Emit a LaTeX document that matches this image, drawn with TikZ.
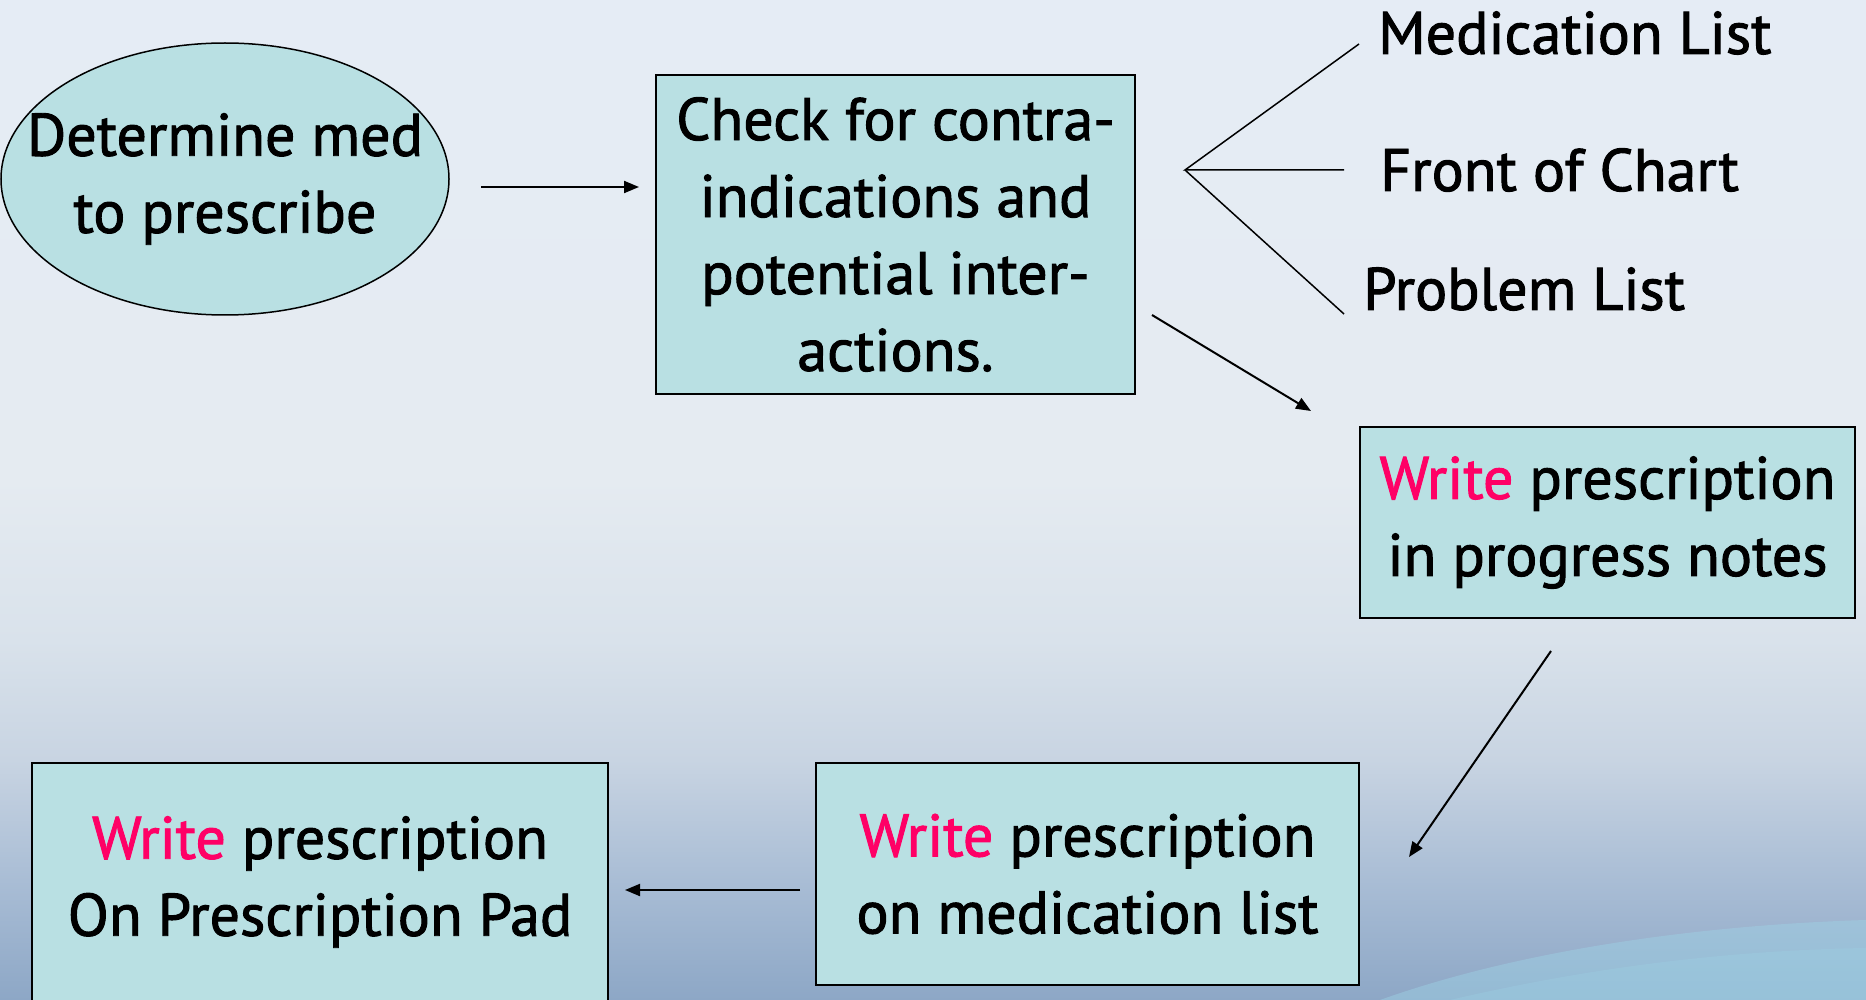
\documentclass[tikz,border=0pt]{standalone}
\usepackage{fontspec}
\setmainfont{PT Sans}[FakeBold=1.6]
\usetikzlibrary{arrows.meta,shapes.geometric}
\definecolor{boxfill}{HTML}{B9E0E3}
\definecolor{wred}{HTML}{FF0066}
\definecolor{bg0}{HTML}{8DA7C6}
\definecolor{bg1}{HTML}{A9BDD5}
\definecolor{bg2}{HTML}{C8D4E2}
\definecolor{bg3}{HTML}{D9E2EB}
\definecolor{bg4}{HTML}{E5EBF1}
\definecolor{bg5}{HTML}{E5ECF5}
\definecolor{streak}{HTML}{9ED3E6}
\pgfdeclareverticalshading{bgsh}{100bp}{color(0bp)=(bg0); color(25bp)=(bg0); color(31bp)=(bg1); color(37bp)=(bg2); color(43bp)=(bg3); color(51bp)=(bg4); color(75bp)=(bg5); color(100bp)=(bg5)}
\begin{document}
\begin{tikzpicture}[x=1pt,y=-1pt,
  box/.style={draw=black,line width=1.8pt,fill=boxfill,align=center,
    font=\fontsize{60}{77}\selectfont,inner sep=0pt},
  txt/.style={align=center,font=\fontsize{60}{77}\selectfont,inner sep=0pt},
  lbl/.style={font=\fontsize{60}{66}\selectfont,anchor=west,inner sep=0pt},
  link/.style={line width=1.5pt},
  arr/.style={line width=2pt,-{Triangle[length=15pt,width=12pt]}}]
\useasboundingbox (0,0) rectangle (1866,1000);
\begin{scope}
\clip (0,0) rectangle (1866,1000);
\shade[shading=bgsh] (0,0) rectangle (1866,1000);
\fill[streak,opacity=0.45] (1380,1000) .. controls (1520,950) and (1700,925) .. (1866,920) -- (1866,1000) -- cycle;
\fill[streak,opacity=0.3] (1450,1000) .. controls (1600,965) and (1740,950) .. (1866,948) -- (1866,1000) -- cycle;
\node[draw=black,line width=1.5pt,fill=boxfill,ellipse,minimum width=448pt,minimum height=272pt,inner sep=0pt] (ell) at (225,179) {};
\node[txt] (ellt) at (ell) {Determine med\\to prescribe};
\node[box,minimum width=479pt,minimum height=319pt] (check) at (895.5,234.5) {Check for contra-\\indications and\\potential inter-\\actions.};
\node[box,minimum width=495pt,minimum height=191pt] (prog) at (1607.5,522.5) {\textcolor{wred}{Write} prescription\\in progress notes};
\node[box,minimum width=543pt,minimum height=222pt] (medl) at (1087.5,874) {\textcolor{wred}{Write} prescription\\on medication list};
\node[box,minimum width=576pt,minimum height=238pt] (pad) at (320,882) {\textcolor{wred}{Write} prescription\\On Prescription Pad};
\end{scope}
\node[lbl] (tml) at (1378,33) {Medication List};
\node[lbl] (tfc) at (1380,170) {Front of Chart};
\node[lbl] (tpl) at (1363,289) {Problem List};
\coordinate (br) at (1185,170);
\coordinate (bm) at (1359,44);
\coordinate (bf) at (1344,170);
\coordinate (bp) at (1344,314);
\draw[link] (bm) -- (br) -- (bf);
\draw[link] (br) -- (bp);
\coordinate (a1s) at (481,187);
\coordinate (a1e) at (639,187);
\coordinate (a2s) at (1152,315);
\coordinate (a2e) at (1311,411);
\coordinate (a3s) at (1551,651);
\coordinate (a3e) at (1409,857);
\coordinate (a4s) at (800,890);
\coordinate (a4e) at (625,890);
\draw[arr] (a1s) -- (a1e);
\draw[arr] (a2s) -- (a2e);
\draw[arr] (a3s) -- (a3e);
\draw[arr] (a4s) -- (a4e);
\end{tikzpicture}
\end{document}
